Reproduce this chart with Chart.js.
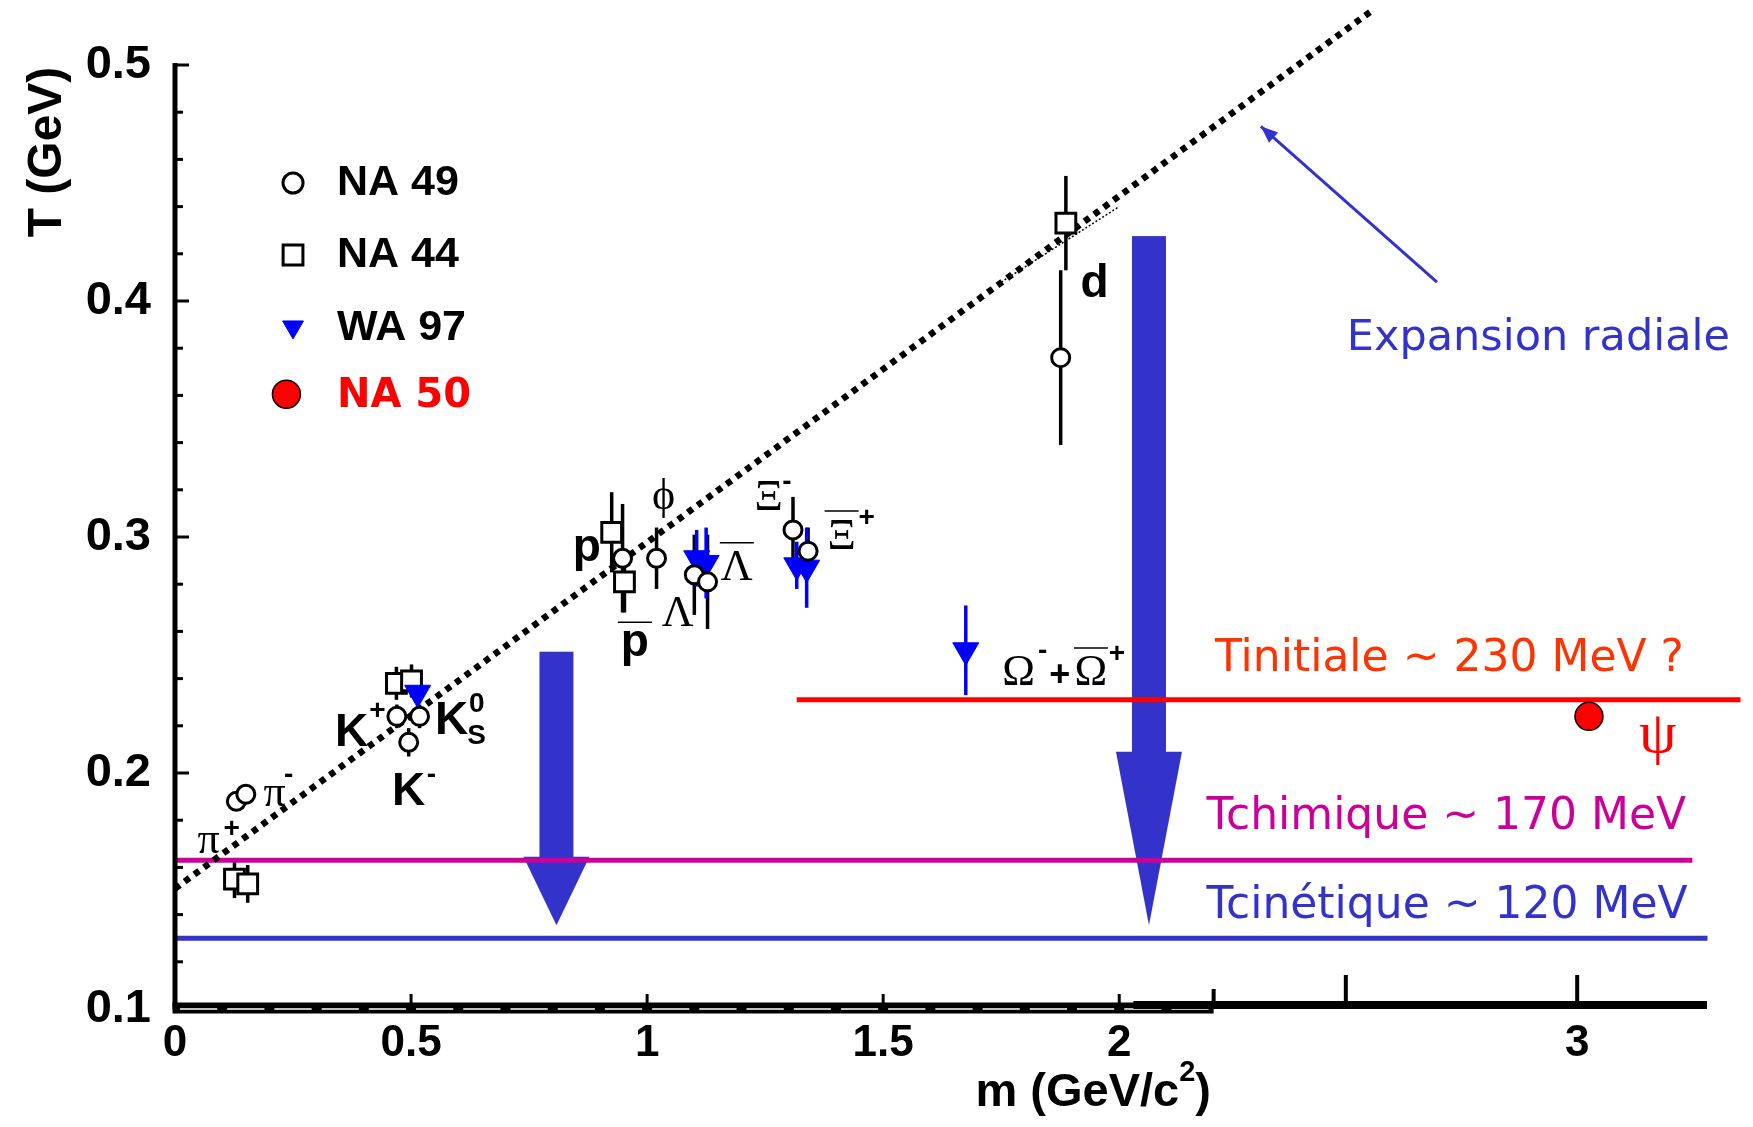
<!DOCTYPE html>
<html>
<head>
<meta charset="utf-8">
<title>T vs m</title>
<script src="https://cdn.jsdelivr.net/npm/chart.js@4.4.0/dist/chart.umd.min.js"></script>
<style>
  html, body { margin: 0; padding: 0; background: #fff; }
  #wrap { width: 1753px; height: 1127px; }
</style>
</head>
<body>
<div id="wrap"><canvas id="chart" width="1753" height="1127"></canvas></div>
<script>
// --- data (m in GeV/c2, T in GeV) ---
const na49Mass = [0.130, 0.150, 0.470, 0.518, 0.495, 0.948, 1.020, 1.100, 1.128, 1.309, 1.341, 1.876];
const na49Temp = [0.188, 0.191, 0.224, 0.224, 0.213, 0.291, 0.291, 0.284, 0.281, 0.303, 0.294, 0.376];
const na49Err  = [0.004, 0.004, 0.005, 0.005, 0.006, 0.023, 0.013, 0.017, 0.020, 0.014, 0.010, 0.037];

const na44Mass = [0.126, 0.154, 0.469, 0.501, 0.925, 0.952, 1.887];
const na44Temp = [0.155, 0.153, 0.238, 0.239, 0.302, 0.281, 0.433];
const na44Err  = [0.008, 0.008, 0.007, 0.007, 0.017, 0.013, 0.020];

const wa97Mass = [0.514, 1.105, 1.125, 1.317, 1.338, 1.675];
const wa97Temp = [0.234, 0.291, 0.289, 0.288, 0.287, 0.252];
const wa97Err  = [0.008, 0.012, 0.015, 0.010, 0.017, 0.019];

const na50Mass = [2.995];
const na50Temp = [0.224];

// dotted fit lines
const fitMass = [0, 2.535];
const fitTemp = [0.151, 0.523];
const thinFitMass = [1.75, 2.0];
const thinFitTemp = [0.408, 0.440];

// temperature levels
const levelNames = ['Tinitiale ~ 230 MeV ?', 'Tchimique ~ 170 MeV', 'Tcinétique ~ 120 MeV'];
const levelTemp  = [0.231, 0.163, 0.130];
const levelFrom  = [1.317, 0, 0];
const levelTo    = [3.316, 3.214, 3.246];

// big cooling arrows
const coolMass = [0.808, 2.063];
const coolFrom = [0.2514, 0.4275];
const coolHead = [0.1645, 0.209];
const coolTo   = [0.1355, 0.1355];

// "Expansion radiale" pointer (tail, tip)
const expMass = [2.673, 2.300];
const expTemp = [0.408, 0.474];

// axes
const yTickValues = [0.1, 0.2, 0.3, 0.4, 0.5];
const yTickLabels = ['0.1', '0.2', '0.3', '0.4', '0.5'];
const xTickValues = [0, 0.5, 1, 1.5, 2, 2.97];
const xTickLabels = ['0', '0.5', '1', '1.5', '2', '3'];
const xExtraTicks = [2.2, 2.48, 2.97];

const legendNames = ['NA 49', 'NA 44', 'WA 97', 'NA 50'];

// particle labels: text, m, T, style, overline
const particleLabels = [
  ['π', 0.071, 0.171, 'g'], ['+', 0.120, 0.176, 's'],
  ['π', 0.211, 0.191, 'g'], ['-', 0.241, 0.199, 's'],
  ['K', 0.374, 0.217, 'b'], ['+', 0.429, 0.226, 's'],
  ['K', 0.586, 0.222, 'b'], ['0', 0.639, 0.229, 's'], ['S', 0.639, 0.2155, 's'],
  ['K', 0.495, 0.192, 'b'], ['-', 0.543, 0.199, 's'],
  ['p', 0.872, 0.295, 'b'],
  ['p', 0.974, 0.255, 'b', true],
  ['Λ', 1.065, 0.267, 'g'],
  ['Λ', 1.190, 0.2865, 'g', true],
  ['ϕ', 1.035, 0.3166, 'g'],
  ['Ξ', 1.2575, 0.3165, 'g'], ['-', 1.296, 0.3233, 's'],
  ['Ξ', 1.412, 0.300, 'g', true], ['+', 1.465, 0.308, 's'],
  ['d', 1.948, 0.407, 'b'],
  ['Ω', 1.787, 0.242, 'g'], ['-', 1.838, 0.2514, 's'], ['+', 1.874, 0.2412, 'p'],
  ['Ω', 1.940, 0.242, 'g', true], ['+', 1.995, 0.2502, 's']
];

const SANS = "'Liberation Sans', Arial, sans-serif";
const SERIF = "'Liberation Serif', 'Times New Roman', serif";
const HAND = "'DejaVu Sans', sans-serif";
const BLUE = '#3333cc';
const labelFonts = {
  g: '44px ' + SERIF,
  b: 'bold 46px ' + SANS,
  s: 'bold 28px ' + SANS,
  p: 'bold 36px ' + SANS
};

function pts(xs, ys) {
  return xs.map((x, i) => ({ x: x, y: ys[i] }));
}

function line(ctx, x1, y1, x2, y2) {
  ctx.beginPath();
  ctx.moveTo(x1, y1);
  ctx.lineTo(x2, y2);
  ctx.stroke();
}

function put(ctx, str, x, y, font, color, align) {
  ctx.font = font;
  ctx.fillStyle = color;
  ctx.textAlign = align || 'center';
  ctx.textBaseline = 'middle';
  ctx.fillText(str, x, y);
}

function drawMarker(ctx, style, x, y) {
  ctx.save();
  ctx.fillStyle = style.bg;
  ctx.strokeStyle = style.border;
  ctx.lineWidth = style.bw;
  Chart.helpers.drawPoint(ctx, { pointStyle: style.ps, radius: style.r, rotation: style.rot || 0, borderWidth: style.bw }, x, y);
  ctx.restore();
}

const decorPlugin = {
  id: 'decor',
  beforeDraw(chart) {
    const ctx = chart.ctx;
    ctx.save();
    ctx.fillStyle = '#fff';
    ctx.fillRect(0, 0, chart.width, chart.height);
    ctx.restore();
  },
  beforeDatasetsDraw(chart) {
    const ctx = chart.ctx, xs = chart.scales.x, ys = chart.scales.y;
    ctx.save();
    // cooling arrows
    ctx.fillStyle = BLUE;
    coolMass.forEach((m, i) => {
      const cx = xs.getPixelForValue(m);
      const yTop = ys.getPixelForValue(coolFrom[i]);
      const yHead = ys.getPixelForValue(coolHead[i]);
      const yTip = ys.getPixelForValue(coolTo[i]);
      ctx.fillRect(cx - 17, yTop, 34, yHead - yTop + 1);
      ctx.beginPath();
      ctx.moveTo(cx - 33, yHead);
      ctx.lineTo(cx + 33, yHead);
      ctx.lineTo(cx, yTip);
      ctx.closePath();
      ctx.fill();
    });
    // error bars
    ctx.lineWidth = 3.5;
    const bars = (ms, ts, es, color) => {
      ctx.strokeStyle = color;
      ms.forEach((m, i) => {
        const px = xs.getPixelForValue(m);
        line(ctx, px, ys.getPixelForValue(ts[i] - es[i]), px, ys.getPixelForValue(ts[i] + es[i]));
      });
    };
    bars(na44Mass, na44Temp, na44Err, '#000');
    bars(na49Mass, na49Temp, na49Err, '#000');
    bars(wa97Mass, wa97Temp, wa97Err, '#0000ff');
    ctx.restore();
  },
  afterDatasetsDraw(chart) {
    const ctx = chart.ctx, xs = chart.scales.x, ys = chart.scales.y;
    ctx.save();
    ctx.strokeStyle = '#000';
    ctx.lineCap = 'butt';
    const x0 = xs.getPixelForValue(0);
    const yb = ys.getPixelForValue(0.1);
    const yt = ys.getPixelForValue(0.5);

    // y axis with inward ticks
    ctx.lineWidth = 5;
    line(ctx, x0, yb, x0, yt - 2);
    ctx.lineWidth = 3;
    for (let k = 0; k <= 20; k++) {
      const v = 0.1 + k * 0.02;
      const py = ys.getPixelForValue(v);
      line(ctx, x0, py, x0 + (k % 5 === 0 ? 14 : 8), py);
    }

    // x axis: thick band up to 2.2 with a broken white core
    const xEnd = xs.getPixelForValue(2.2);
    const yAx = yb - 1;
    ctx.lineWidth = 11;
    line(ctx, x0 - 2.5, yAx, xEnd, yAx);
    ctx.strokeStyle = '#fff';
    ctx.lineWidth = 1.5;
    for (let k = 0; k < 22; k++) {
      const a = xs.getPixelForValue(k * 0.1) + 5;
      const b = xs.getPixelForValue((k + 1) * 0.1) - 5;
      line(ctx, a, yAx + 1, b, yAx + 1);
    }
    ctx.strokeStyle = '#000';
    ctx.lineWidth = 3;
    [0.5, 1, 1.5, 2].forEach(v => {
      const px = xs.getPixelForValue(v);
      line(ctx, px, yAx, px, yAx - 14);
    });
    // added extension of the mass axis
    ctx.lineWidth = 8;
    line(ctx, xs.getPixelForValue(2.03), yAx - 3, xs.right, yAx - 3);
    ctx.lineWidth = 4;
    xExtraTicks.forEach((v, i) => {
      const px = xs.getPixelForValue(v);
      line(ctx, px, yAx - 3, px, yAx - (i === 0 ? 19 : 33));
    });

    // axis titles
    ctx.save();
    ctx.translate(48, 152);
    ctx.rotate(-Math.PI / 2);
    put(ctx, 'T (GeV)', 0, 0, 'bold 48px ' + SANS, '#000');
    ctx.restore();
    {
      const f1 = 'bold 47px ' + SANS, f2 = 'bold 29px ' + SANS;
      ctx.font = f1;
      const w1 = ctx.measureText('m (GeV/c').width;
      const w3 = ctx.measureText(')').width;
      ctx.font = f2;
      const w2 = ctx.measureText('2').width;
      const left = xs.getPixelForValue(1.945) - (w1 + w2 + w3) / 2;
      const yy = 1093;
      put(ctx, 'm (GeV/c', left, yy, f1, '#000', 'left');
      put(ctx, '2', left + w1, yy - 20, f2, '#000', 'left');
      put(ctx, ')', left + w1 + w2, yy, f1, '#000', 'left');
    }

    // particle labels
    particleLabels.forEach(l => {
      const px = xs.getPixelForValue(l[1]);
      const py = ys.getPixelForValue(l[2]);
      put(ctx, l[0], px, py, labelFonts[l[3]], '#000');
      if (l[4]) {
        ctx.lineWidth = 1.5;
        const off = l[3] === 'b' ? 21 : 26;
        line(ctx, px - 17, py - off, px + 17, py - off);
      }
    });

    // level texts
    const levelColors = ['#ff3300', '#cc0099', BLUE];
    const levelTextMass = [2.203, 2.185, 2.185];
    const levelTextTemp = [0.248, 0.1812, 0.1435];
    levelNames.forEach((t, i) => {
      put(ctx, t, xs.getPixelForValue(levelTextMass[i]), ys.getPixelForValue(levelTextTemp[i]), '44px ' + HAND, levelColors[i], 'left');
    });
    put(ctx, 'ψ', xs.getPixelForValue(3.141), ys.getPixelForValue(0.2154), '60px ' + SERIF, '#ff0000');

    // expansion pointer
    const ax = xs.getPixelForValue(expMass[0]), ay = ys.getPixelForValue(expTemp[0]);
    const bx = xs.getPixelForValue(expMass[1]), by = ys.getPixelForValue(expTemp[1]);
    ctx.strokeStyle = BLUE;
    ctx.fillStyle = BLUE;
    ctx.lineWidth = 3;
    line(ctx, ax, ay, bx, by);
    const ang = Math.atan2(by - ay, bx - ax);
    ctx.beginPath();
    ctx.moveTo(bx, by);
    ctx.lineTo(bx - 17 * Math.cos(ang) + 7 * Math.sin(ang), by - 17 * Math.sin(ang) - 7 * Math.cos(ang));
    ctx.lineTo(bx - 17 * Math.cos(ang) - 7 * Math.sin(ang), by - 17 * Math.sin(ang) + 7 * Math.cos(ang));
    ctx.closePath();
    ctx.fill();
    put(ctx, 'Expansion radiale', xs.getPixelForValue(2.482), ys.getPixelForValue(0.3839), '43px ' + HAND, BLUE, 'left');

    // legend
    const legendStyles = [
      { ps: 'circle', r: 10, bw: 3, bg: '#fff', border: '#000' },
      { ps: 'rect', r: 14, bw: 3, bg: '#fff', border: '#000' },
      { ps: 'triangle', r: 12, bw: 1, bg: '#0000ff', border: '#0000ff', rot: 180 },
      { ps: 'circle', r: 14, bw: 1.5, bg: '#ff0000', border: '#000' }
    ];
    const legendTemp = [0.45, 0.4195, 0.389, 0.3605];
    const textTemp = [0.45, 0.4195, 0.3885, 0.3595];
    legendNames.forEach((n, i) => {
      const mx = xs.getPixelForValue(i === 3 ? 0.236 : 0.25);
      drawMarker(ctx, legendStyles[i], mx, ys.getPixelForValue(legendTemp[i]));
      const font = i === 3 ? 'bold 40px ' + HAND : 'bold 43px ' + SANS;
      put(ctx, n, xs.getPixelForValue(0.343), ys.getPixelForValue(textTemp[i]), font, i === 3 ? '#ff0000' : '#000', 'left');
    });
    ctx.restore();
  }
};

const datasets = [
  { label: 'NA 50', data: pts(na50Mass, na50Temp), pointStyle: 'circle', pointRadius: 14,
    backgroundColor: '#ff0000', borderColor: '#000', borderWidth: 1.5 },
  { label: 'NA 49', data: pts(na49Mass, na49Temp), pointStyle: 'circle', pointRadius: 9,
    backgroundColor: '#fff', borderColor: '#000', borderWidth: 3 },
  { label: 'WA 97', data: pts(wa97Mass, wa97Temp), pointStyle: 'triangle', pointRotation: 180, pointRadius: 15,
    backgroundColor: '#0000ff', borderColor: '#0000ff', borderWidth: 1 },
  { label: 'NA 44', data: pts(na44Mass, na44Temp), pointStyle: 'rect', pointRadius: 14,
    backgroundColor: '#fff', borderColor: '#000', borderWidth: 3 },
  { type: 'line', label: 'fit', data: pts(fitMass, fitTemp), borderColor: '#000', borderWidth: 6.5,
    borderDash: [6, 6], pointRadius: 0, fill: false, clip: false },
  { type: 'line', label: 'fit2', data: pts(thinFitMass, thinFitTemp), borderColor: '#000', borderWidth: 1.5,
    borderDash: [2, 2], pointRadius: 0, fill: false, clip: false }
];
const levelLineColors = ['#ff0000', '#cc0099', BLUE];
levelNames.forEach((n, i) => {
  datasets.push({ type: 'line', label: n, data: pts([levelFrom[i], levelTo[i]], [levelTemp[i], levelTemp[i]]),
    borderColor: levelLineColors[i], borderWidth: 5, pointRadius: 0, fill: false, clip: false });
});

const chart = new Chart(document.getElementById('chart'), {
  type: 'scatter',
  data: { datasets: datasets },
  options: {
    responsive: false,
    animation: false,
    devicePixelRatio: 1,
    events: [],
    layout: { padding: { left: 0, top: 65, right: 46, bottom: 0 } },
    plugins: { legend: { display: false }, tooltip: { enabled: false } },
    scales: {
      x: {
        type: 'linear', min: 0, max: 3.245,
        grid: { display: false, drawTicks: false },
        border: { display: false },
        afterBuildTicks: s => { s.ticks = xTickValues.map(v => ({ value: v })); },
        afterFit: s => { s.height = 118; },
        ticks: {
          padding: 8, autoSkip: false, maxRotation: 0, color: '#000',
          font: { family: SANS, size: 44, weight: 'bold' },
          callback: (v, i) => xTickLabels[i]
        }
      },
      y: {
        type: 'linear', min: 0.1, max: 0.5,
        grid: { display: false, drawTicks: false },
        border: { display: false },
        afterBuildTicks: s => { s.ticks = yTickValues.map(v => ({ value: v })); },
        afterFit: s => { s.width = 175; },
        ticks: {
          padding: 24, color: '#000',
          font: { family: SANS, size: 47, weight: 'bold' },
          callback: (v, i) => yTickLabels[i]
        }
      }
    }
  },
  plugins: [decorPlugin]
});
</script>
</body>
</html>
